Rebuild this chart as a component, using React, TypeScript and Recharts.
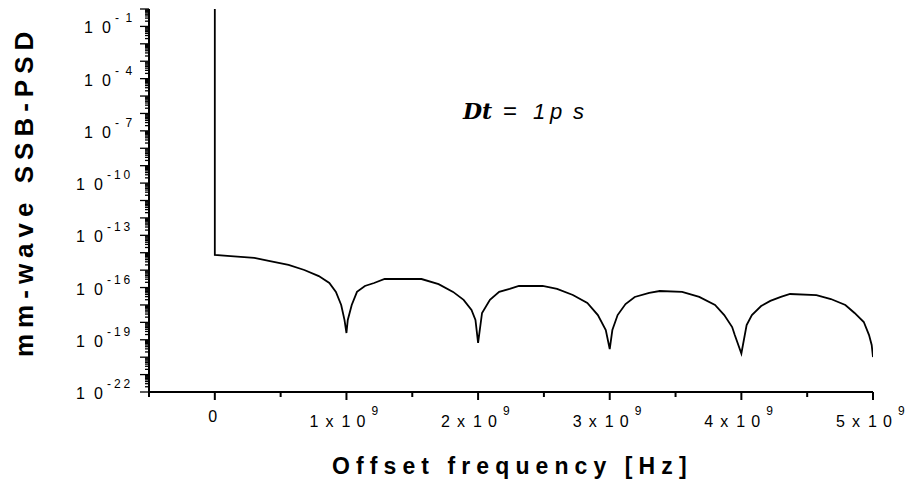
import React from "react";
import { LineChart, Line, XAxis, YAxis } from "recharts";

// offset frequency in Hz and single-sideband PSD
const freqHz = [
  0, 0, 0.12e9, 0.3e9, 0.41e9, 0.56e9, 0.68e9, 0.79e9, 0.87e9, 0.92e9, 0.96e9, 0.985e9,
  1.0e9, 1.01e9, 1.04e9, 1.08e9, 1.14e9, 1.21e9, 1.29e9, 1.57e9, 1.7e9, 1.81e9, 1.89e9,
  1.95e9, 1.98e9, 2.0e9, 2.03e9, 2.09e9, 2.16e9, 2.24e9, 2.31e9, 2.49e9, 2.6e9, 2.72e9,
  2.83e9, 2.91e9, 2.97e9, 3.0e9, 3.02e9, 3.06e9, 3.12e9, 3.19e9, 3.3e9, 3.38e9, 3.55e9,
  3.68e9, 3.8e9, 3.87e9, 3.93e9, 3.95e9, 4.0e9, 4.04e9, 4.08e9, 4.15e9, 4.22e9, 4.3e9,
  4.37e9, 4.57e9, 4.68e9, 4.79e9, 4.86e9, 4.93e9, 4.97e9, 4.99e9, 5.0e9,
];
const psd = [
  1, 7.41e-15, 6.46e-15, 5.01e-15, 3.39e-15, 2.0e-15, 1.02e-15, 4.57e-16, 1.82e-16, 5.62e-17,
  1.0e-17, 1.38e-18, 2.45e-19, 1.38e-18, 1.0e-17, 5.62e-17, 1.23e-16, 1.82e-16, 3.09e-16,
  3.09e-16, 1.58e-16, 5.62e-17, 1.95e-17, 5.13e-18, 1.38e-18, 6.61e-20, 3.47e-18, 1.95e-17,
  5.62e-17, 8.32e-17, 1.23e-16, 1.23e-16, 8.32e-17, 3.72e-17, 1.29e-17, 2.63e-18, 3.63e-19,
  2.95e-20, 3.63e-19, 2.63e-18, 1.12e-17, 2.88e-17, 4.9e-17, 6.31e-17, 5.62e-17, 2.88e-17,
  1.0e-17, 2.63e-18, 5.37e-19, 1.86e-19, 1.62e-20, 7.08e-19, 2.63e-18, 8.71e-18, 1.7e-17,
  2.88e-17, 4.27e-17, 3.72e-17, 2.19e-17, 1.0e-17, 3.47e-18, 1.05e-18, 1.86e-19, 5.01e-20,
  1.02e-20,
];

const xMajorTicks = [0, 1e9, 2e9, 3e9, 4e9, 5e9];
const xMinorTicks = [-0.5e9, 0.5e9, 1.5e9, 2.5e9, 3.5e9, 4.5e9];
const xTickMantissa = ["0", "1", "2", "3", "4", "5"];
const yDecades = [-22, -21, -20, -19, -18, -17, -16, -15, -14, -13, -12, -11, -10, -9, -8, -7, -6, -5, -4, -3, -2, -1, 0];
const yLabelExponents = [-22, -19, -16, -13, -10, -7, -4, -1];

const data = freqHz.map((f, i) => ({ f, psd: psd[i] }));

const yTicks: number[] = [];
yDecades.forEach((e) => {
  yTicks.push(Math.pow(10, e));
  if (e < 0) for (let m = 2; m <= 9; m++) yTicks.push(m * Math.pow(10, e));
});

const FONT = "Arial, 'Liberation Sans', sans-serif";

const XTick = (props: any) => {
  const { x, y, payload } = props;
  const idx = xMajorTicks.indexOf(payload.value);
  const major = idx >= 0;
  return (
    <g>
      <line x1={x} x2={x} y1={y} y2={y + (major ? 8 : 5)} stroke="#000" strokeWidth={2} />
      {major && idx === 0 && (
        <text x={x - 2} y={y + 30} textAnchor="middle" fontSize={16} fontFamily={FONT} fill="#000">
          {xTickMantissa[idx]}
        </text>
      )}
      {major && idx > 0 && (
        <g fontFamily={FONT} fill="#000">
          <text x={[x - 37, x - 21, x - 5, x + 10].join(" ")} y={y + 35} fontSize={16}>
            {xTickMantissa[idx]}x10
          </text>
          <text x={x + 25} y={y + 23} fontSize={12}>9</text>
        </g>
      )}
    </g>
  );
};

const YTick = (props: any) => {
  const { x, y, payload } = props;
  const lg = Math.log10(payload.value);
  const major = Math.abs(lg - Math.round(lg)) < 1e-6;
  const e = Math.round(lg);
  const labelled = major && yLabelExponents.includes(e);
  const sup = String(e);
  const sx = sup.length > 2 ? x - 42 : x - 34;
  const supX = sup.length > 2 ? [sx, sx + 7, sx + 16.5] : [sx, sx + 10.5];
  return (
    <g>
      <line x1={x - (major ? 9 : 4)} x2={x} y1={y} y2={y} stroke="#000" strokeWidth={1.3} />
      {labelled && (
        <g fontFamily={FONT} fill="#000">
          <text x={[sx - 31, sx - 13].join(" ")} y={y + 7} fontSize={16}>10</text>
          <text x={supX.join(" ")} y={y - 4} fontSize={12}>{sup}</text>
        </g>
      )}
    </g>
  );
};

export default function App() {
  return (
    <div style={{ position: "fixed", left: 0, top: 0, width: 910, height: 486, background: "#fff" }}>
      <LineChart width={910} height={486} data={data} margin={{ top: 9, right: 37, bottom: 54, left: 89 }}>
        <XAxis
          dataKey="f"
          type="number"
          domain={[-0.5e9, 5e9]}
          ticks={[...xMinorTicks, ...xMajorTicks].sort((a, b) => a - b)}
          interval={0}
          tick={<XTick />}
          tickLine={false}
          tickSize={0}
          tickMargin={0}
          height={40}
          axisLine={{ stroke: "#000", strokeWidth: 2 }}
          allowDataOverflow
        />
        <YAxis
          dataKey="psd"
          type="number"
          scale="log"
          domain={[1e-22, 1]}
          ticks={yTicks}
          interval={0}
          tick={<YTick />}
          tickLine={false}
          tickSize={0}
          tickMargin={0}
          width={60}
          axisLine={{ stroke: "#000", strokeWidth: 2 }}
          allowDataOverflow
        />
        <Line
          dataKey="psd"
          type="linear"
          stroke="#000"
          strokeWidth={1.8}
          dot={false}
          isAnimationActive={false}
        />
      </LineChart>
      <svg width={910} height={486} style={{ position: "absolute", left: 0, top: 0, pointerEvents: "none" }}>
        <text
          x={332}
          y={474}
          fontSize={23}
          fontWeight="bold"
          fontFamily={FONT}
          letterSpacing={6.1}
          fill="#000"
        >
          Offset frequency [Hz]
        </text>
        <text
          transform="translate(33,357) rotate(-90)"
          fontSize={26}
          fontWeight="bold"
          fontFamily={FONT}
          letterSpacing={6}
          fill="#000"
        >
          mm-wave SSB-PSD
        </text>
        <text y={119} fontSize={22} fill="#000">
          <tspan x={463} fontFamily="'DejaVu Serif', serif" fontWeight="bold" fontStyle="italic">Dt</tspan>
          <tspan x={503} fontFamily={FONT} fontSize={24}>=</tspan>
          <tspan x={533} fontFamily={FONT} fontStyle="italic">1</tspan>
          <tspan x={550} fontFamily={FONT} fontStyle="italic">p</tspan>
          <tspan x={573} fontFamily={FONT} fontStyle="italic">s</tspan>
        </text>
      </svg>
    </div>
  );
}
